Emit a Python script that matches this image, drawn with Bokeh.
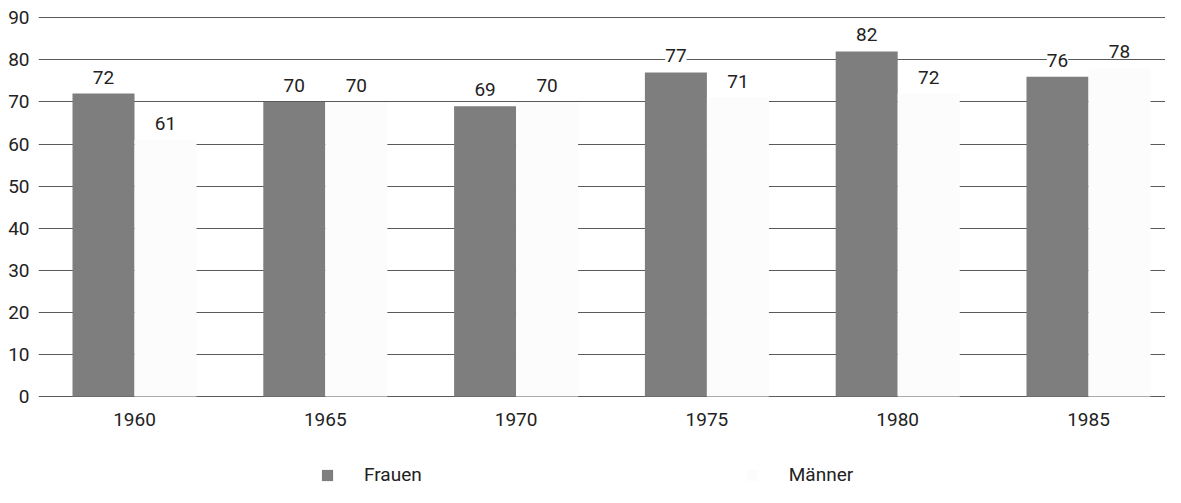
from bokeh.plotting import figure
from bokeh.models import (ColumnDataSource, Range1d, FixedTicker, LabelSet,
                          Legend, LegendItem)
from bokeh.core.properties import value
from bokeh.transform import dodge
from bokeh.embed import file_html
from bokeh.resources import INLINE

# ---- data -------------------------------------------------------------
years = [1960, 1965, 1970, 1975, 1980, 1985]
frauen = [72, 70, 69, 77, 82, 76]
maenner = [61, 70, 70, 71, 72, 78]
series_names = ["Frauen", "Männer"]
y_ticks = [0, 10, 20, 30, 40, 50, 60, 70, 80, 90]

# ---- styling ----------------------------------------------------------
FONT = "Roboto"
FS = "19px"
TEXT_COLOR = "#222222"
FRAUEN_COLOR = "#7e7e7e"
MAENNER_COLOR = "#fcfcfc"
GRID_COLOR = "#5a5a5a"
OFF = 0.8125      # half a bar, in years
BAR_W = 1.625

source = ColumnDataSource(dict(
    year=years,
    frauen=frauen,
    maenner=maenner,
    frauen_lbl=[str(v) for v in frauen],
    maenner_lbl=[str(v) for v in maenner],
))

# the frame reaches down to the bottom so the legend can sit inside it;
# the x axis is pinned at y = 0
p = figure(width=1165, height=487,
           x_range=Range1d(1957.484, 1987.018),
           y_range=Range1d(-21.66, 91.5),
           output_backend="svg", toolbar_location=None,
           min_border_left=38, min_border_right=0,
           min_border_top=11, min_border_bottom=0)

p.outline_line_color = None
p.background_fill_color = "white"
p.border_fill_color = "white"

rf = p.vbar(x=dodge("year", -OFF), top="frauen", width=BAR_W, source=source,
            fill_color=FRAUEN_COLOR, line_color=None)
rm = p.vbar(x=dodge("year", OFF), top="maenner", width=BAR_W, source=source,
            fill_color=MAENNER_COLOR, line_color=None)

for fld, lbl, dx in (("frauen", "frauen_lbl", -OFF), ("maenner", "maenner_lbl", OFF)):
    ls = LabelSet(x=dodge("year", dx), y=fld, text=lbl, source=source,
                  y_offset=10, text_align="center", text_baseline="alphabetic",
                  text_font=value(FONT), text_font_size=value(FS),
                  text_color=TEXT_COLOR,
                  background_fill_color="white")
    p.add_layout(ls)

# axes
p.xaxis.ticker = FixedTicker(ticks=years)
p.xaxis.fixed_location = 0
p.yaxis.ticker = FixedTicker(ticks=y_ticks)
for ax in (p.xaxis[0], p.yaxis[0]):
    ax.axis_line_color = None
    ax.major_tick_line_color = None
    ax.minor_tick_line_color = None
    ax.major_tick_out = 0
    ax.major_tick_in = 0
    ax.minor_tick_out = 0
    ax.major_label_text_font = FONT
    ax.major_label_text_font_size = FS
    ax.major_label_text_color = TEXT_COLOR
p.xaxis.major_label_standoff = 17
p.yaxis.major_label_standoff = 9

p.xgrid.grid_line_color = None
p.ygrid.ticker = FixedTicker(ticks=y_ticks)
p.ygrid.grid_line_color = GRID_COLOR
p.ygrid.grid_line_width = 1.2

legend = Legend(items=[LegendItem(label=series_names[0], renderers=[rf]),
                       LegendItem(label=series_names[1], renderers=[rm])],
                orientation="horizontal", location=(282, 1),
                border_line_color=None, background_fill_alpha=0,
                padding=0, margin=0, spacing=323,
                glyph_width=14, glyph_height=14, label_standoff=30,
                label_text_font=FONT, label_text_font_size=FS,
                label_text_color=TEXT_COLOR, label_height=20)
p.add_layout(legend)

open("out.html", "w").write(file_html(p, INLINE))
